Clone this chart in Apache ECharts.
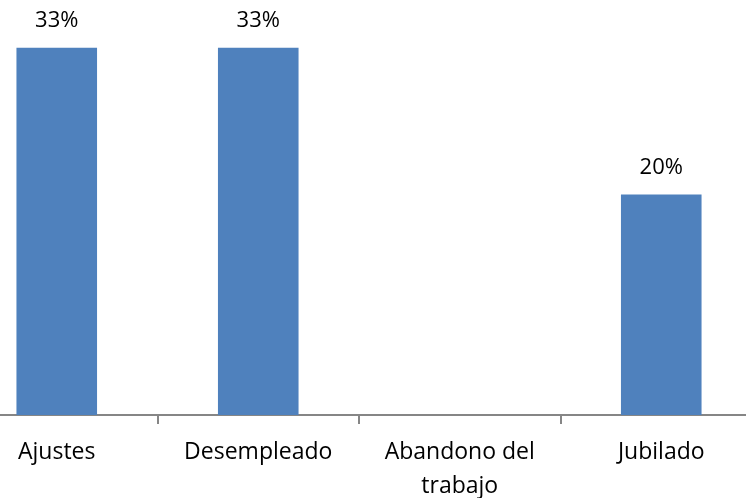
<!DOCTYPE html>
<html>
<head>
<meta charset="utf-8">
<script src="https://cdn.jsdelivr.net/npm/echarts@6/dist/echarts.min.js"></script>
<style>
html,body{margin:0;padding:0;background:#fff;overflow:hidden;width:746px;height:498px;position:relative;}
#chart{width:806px;height:498px;position:absolute;left:-44px;top:0;}
</style>
</head>
<body>
<div id="chart"></div>
<script>
const categories = ['Ajustes', 'Desempleado', 'Abandono del\ntrabajo', 'Jubilado'];
const values = [33.3, 33.3, 0, 20];

const chart = echarts.init(document.getElementById('chart'), null, {renderer: 'canvas'});
chart.setOption({
  animation: false,
  backgroundColor: '#ffffff',
  grid: {left: 0, right: 0, top: 18, bottom: 83, containLabel: false, outerBoundsMode: 'none'},
  xAxis: {
    type: 'category',
    data: categories,
    axisLine: {lineStyle: {color: '#868686', width: 2}},
    axisTick: {show: true, length: 9, lineStyle: {color: '#868686', width: 2}},
    axisLabel: {
      color: '#000000',
      fontFamily: 'Open Sans',
      fontSize: 23,
      lineHeight: 34,
      margin: 20,
      interval: 0
    }
  },
  yAxis: {
    type: 'value',
    min: 0,
    max: 36,
    show: false,
    splitLine: {show: false}
  },
  series: [{
    type: 'bar',
    data: values,
    barWidth: '40%',
    itemStyle: {color: '#4F81BD'},
    label: {
      show: true,
      position: 'top',
      distance: 16,
      color: '#000000',
      fontFamily: 'Open Sans',
      fontSize: 22,
      formatter: function (p) { return p.value ? Math.round(p.value) + '%' : ''; }
    }
  }]
});
</script>
</body>
</html>
